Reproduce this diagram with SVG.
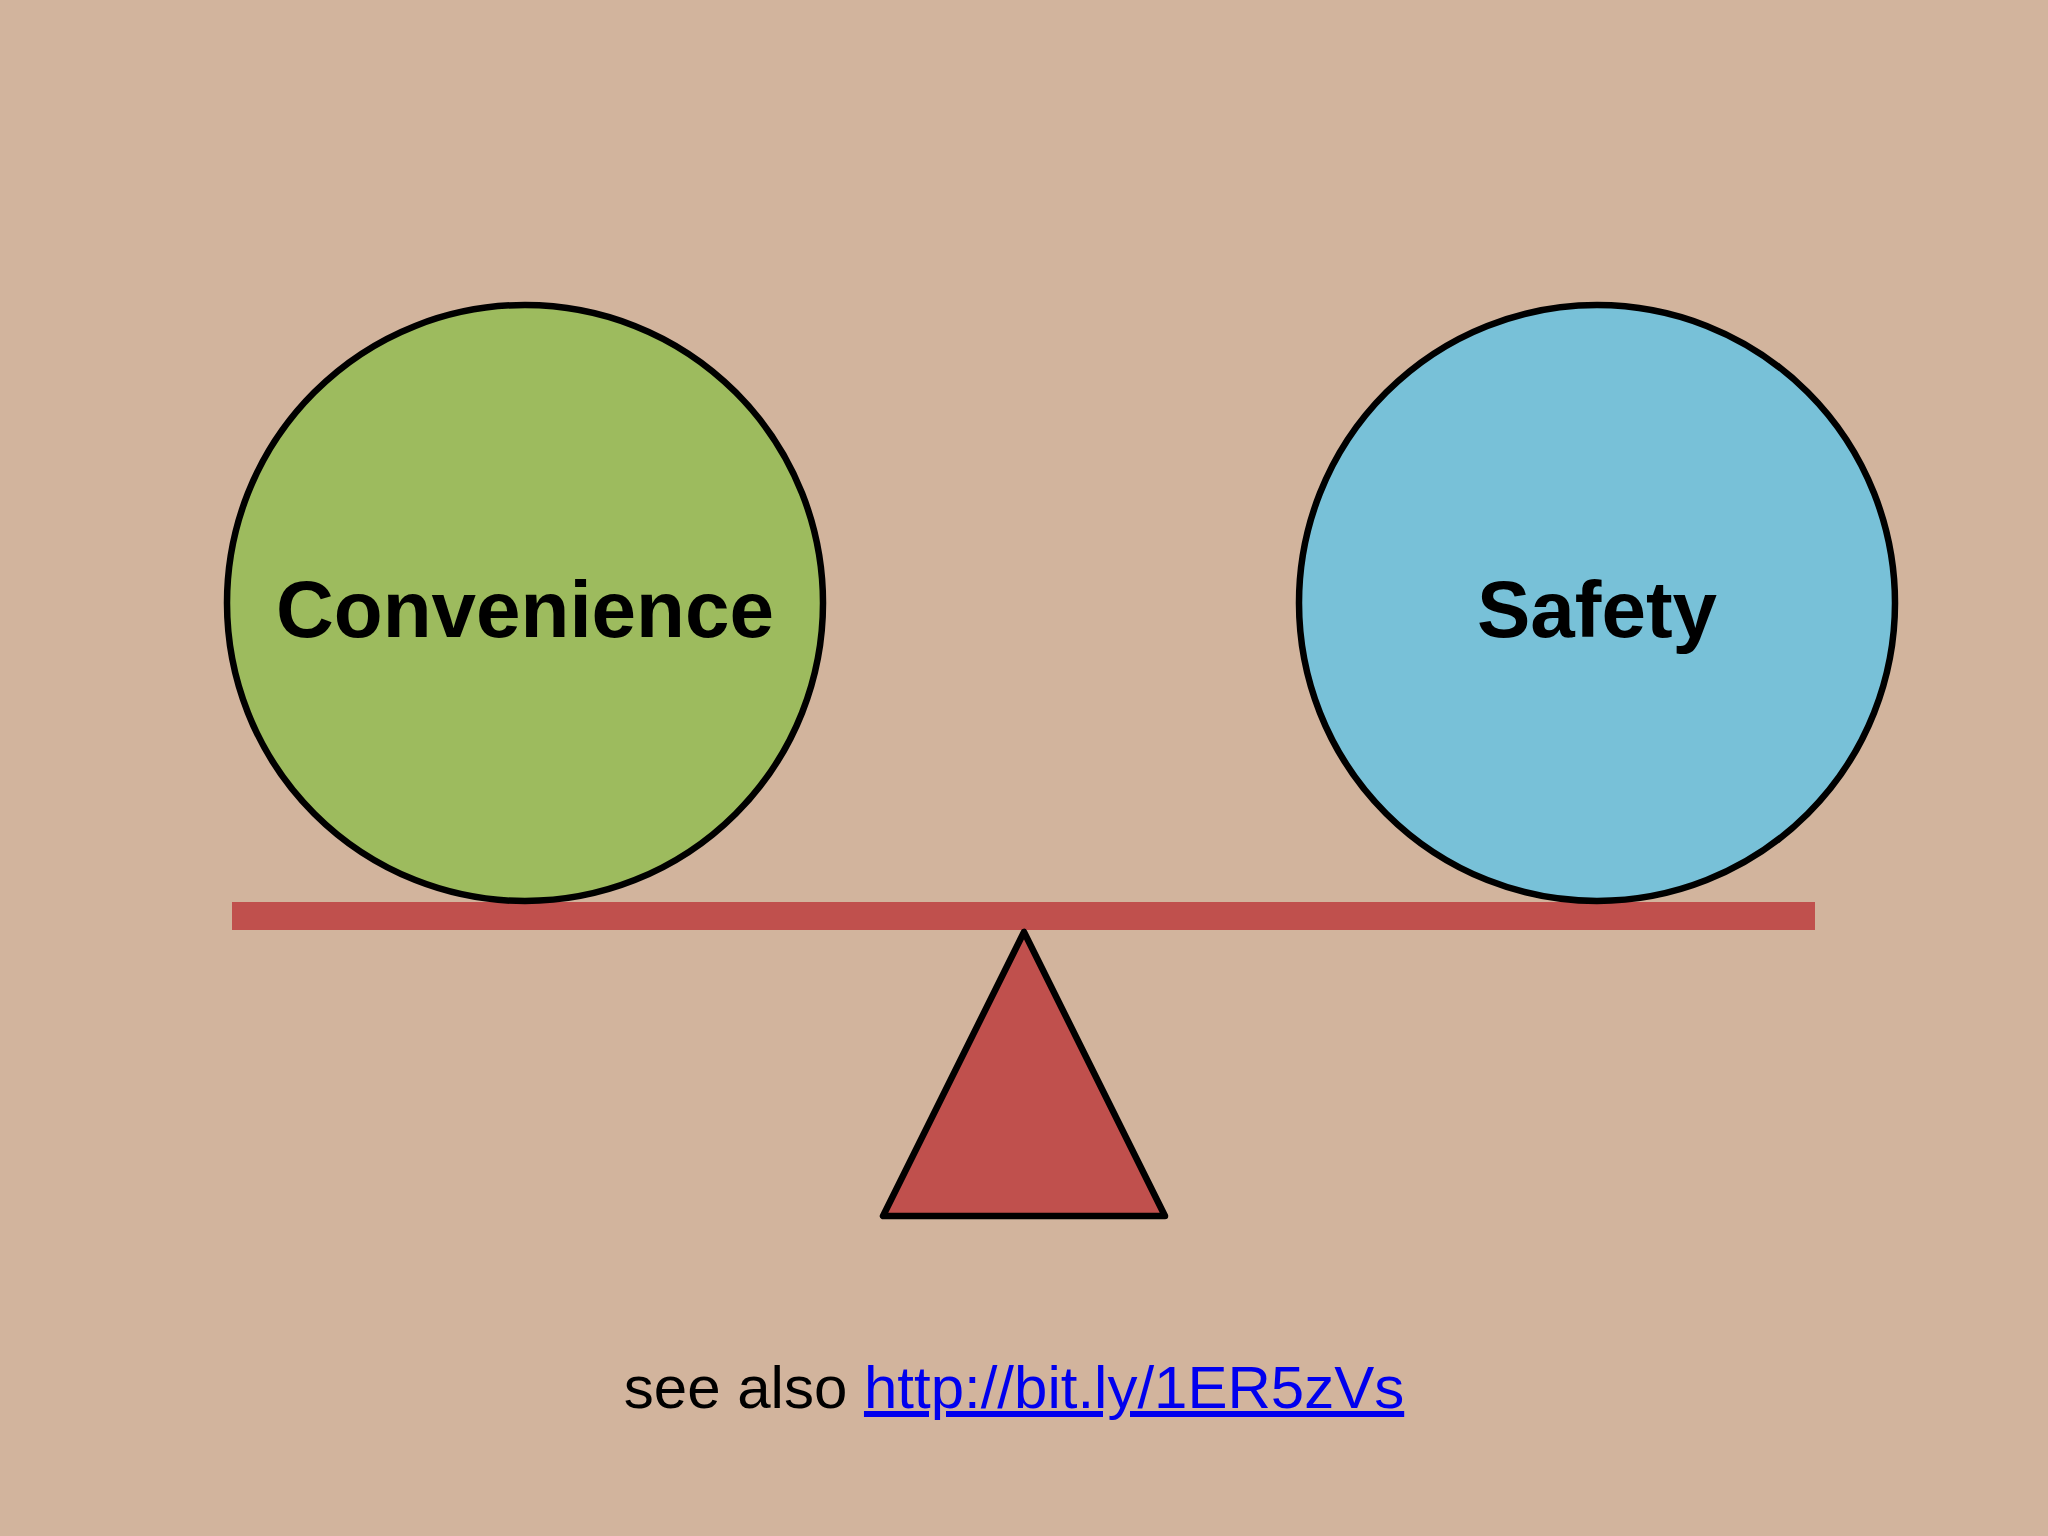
<svg xmlns="http://www.w3.org/2000/svg" width="2048" height="1536" viewBox="0 0 2048 1536">
<style>
.c{stroke:#000;stroke-width:6.5}
.l{font-family:"Liberation Sans",Arial,sans-serif;font-weight:bold;font-size:80px;text-anchor:middle;fill:#000}
.f{font-family:"Liberation Sans",Arial,sans-serif;font-size:60px;fill:#000}
</style>
<rect width="2048" height="1536" fill="#d2b49d"/>
<g id="connectors">
<rect id="beam" x="232" y="902" width="1583" height="28" fill="#c0504d"/>
</g>
<g id="convenience"><circle class="c" cx="525" cy="603" r="298" fill="#9dbb5e"/><text class="l" x="525" y="637">Convenience</text></g>
<g id="safety"><circle class="c" cx="1597" cy="603" r="298" fill="#78c1d8"/><text class="l" x="1597" y="637">Safety</text></g>
<g id="fulcrum"><polygon class="c" points="1024,932 883,1216 1165,1216" fill="#c0504d" stroke-linejoin="round"/></g>
<g id="footer"><text class="f" x="1014" y="1408" text-anchor="middle">see also <tspan fill="#0000ee" text-decoration="underline">http://bit.ly/1ER5zVs</tspan></text></g>
</svg>
